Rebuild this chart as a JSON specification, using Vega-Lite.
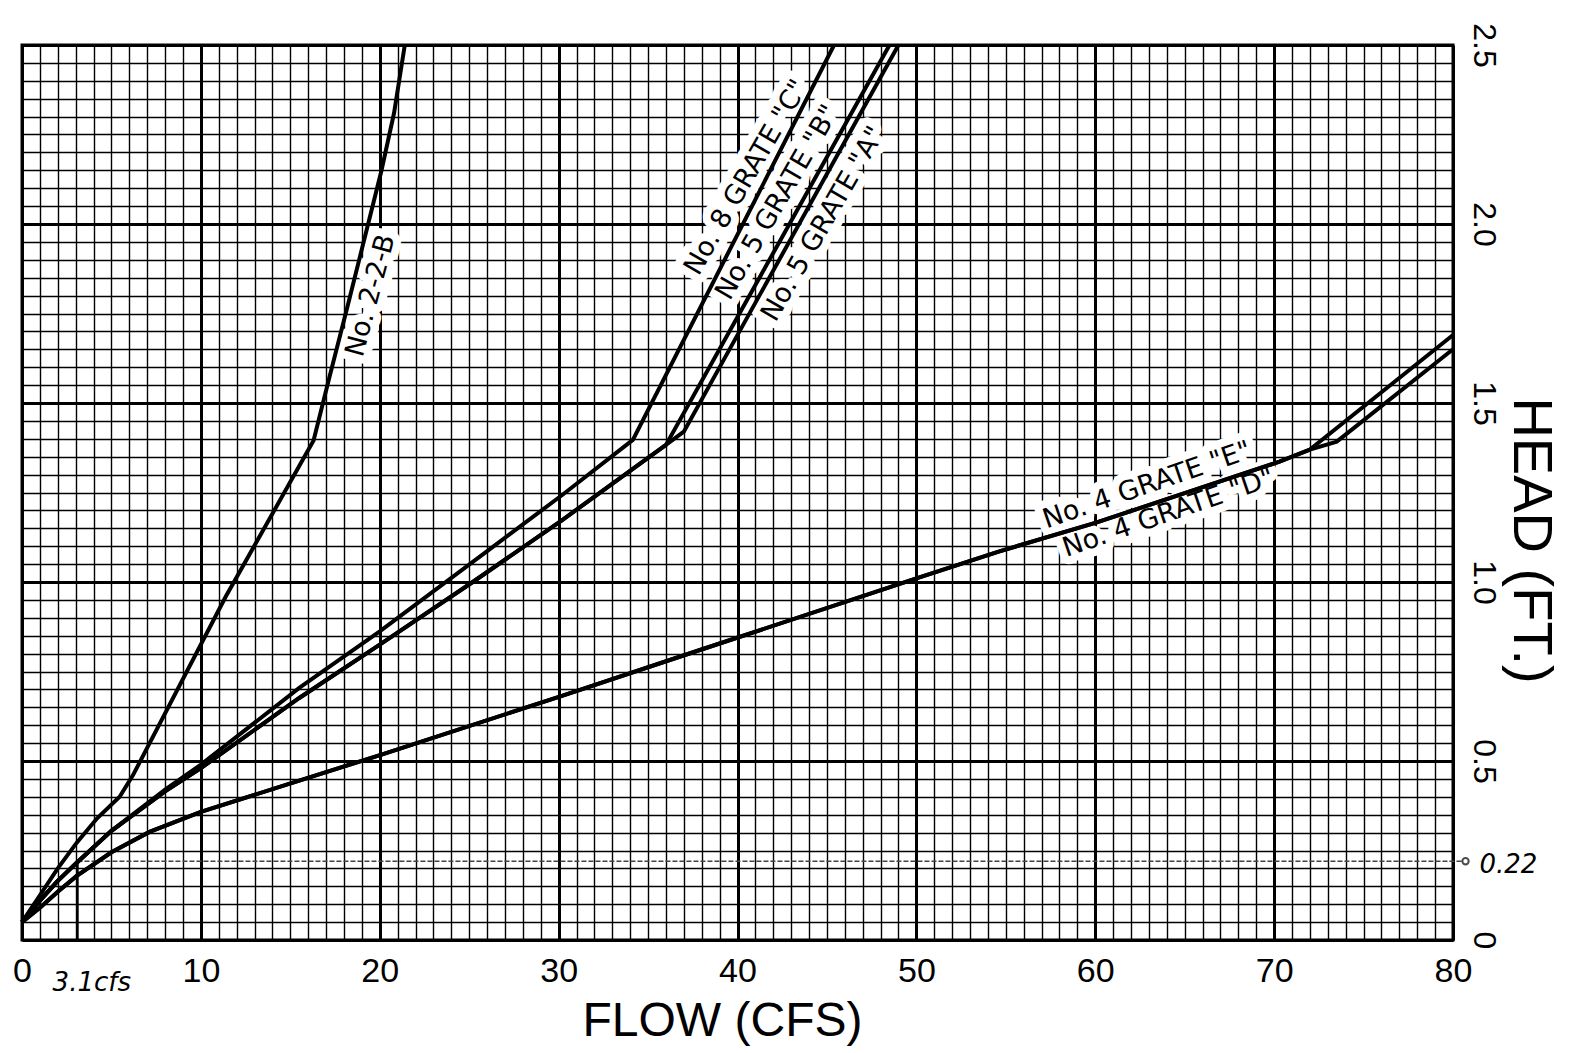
{
  "$schema": "https://vega.github.io/schema/vega-lite/v6.json",
  "width": 1431,
  "height": 895,
  "autosize": "none",
  "padding": {"left": 22, "top": 45, "right": 122, "bottom": 113},
  "background": "white",
  "config": {"view": {"stroke": "black", "strokeWidth": 3}, "font": "Liberation Sans"},
  "encoding": {
    "x": {
      "field": "flow", "type": "quantitative",
      "scale": {"domain": [0, 80], "nice": false, "zero": false},
      "axis": {
        "title": "FLOW (CFS)",
        "values": [0,1,2,3,4,5,6,7,8,9,10,11,12,13,14,15,16,17,18,19,20,21,22,23,24,25,26,27,28,29,30,31,32,33,34,35,36,37,38,39,40,41,42,43,44,45,46,47,48,49,50,51,52,53,54,55,56,57,58,59,60,61,62,63,64,65,66,67,68,69,70,71,72,73,74,75,76,77,78,79,80],
        "grid": true, "gridColor": "black", "gridOpacity": 1,
        "gridWidth": {"condition": {"test": "datum.value % 10 === 0", "value": 3}, "value": 1.4},
        "ticks": false, "domain": false,
        "labelExpr": "datum.value % 10 === 0 ? datum.label : ''",
        "labelFont": "Liberation Sans", "labelFontSize": 34, "labelColor": "black",
        "labelPadding": 14, "labelOverlap": false, "labelBound": false, "labelFlush": false,
        "titleFont": "Liberation Sans", "titleFontSize": 48, "titleFontWeight": "normal", "titleColor": "black",
        "titleX": 700, "titleY": 95, "titleAlign": "center", "titleBaseline": "alphabetic"
      }
    },
    "y": {
      "field": "head", "type": "quantitative",
      "scale": {"domain": [0, 2.5], "nice": false, "zero": false},
      "axis": {
        "orient": "right",
        "title": "HEAD (FT.)",
        "values": [0,0.05,0.1,0.15,0.2,0.25,0.3,0.35,0.4,0.45,0.5,0.55,0.6,0.65,0.7,0.75,0.8,0.85,0.9,0.95,1,1.05,1.1,1.15,1.2,1.25,1.3,1.35,1.4,1.45,1.5,1.55,1.6,1.65,1.7,1.75,1.8,1.85,1.9,1.95,2,2.05,2.1,2.15,2.2,2.25,2.3,2.35,2.4,2.45,2.5],
        "grid": true, "gridColor": "black", "gridOpacity": 1,
        "gridWidth": {"condition": {"test": "round(datum.value*100) % 50 === 0", "value": 3}, "value": 1.4},
        "ticks": false, "domain": false,
        "labelExpr": "round(datum.value*100) % 50 === 0 ? (datum.value === 0 ? '0' : format(datum.value, '.1f')) : ''",
        "labelAngle": 90, "labelAlign": "center", "labelBaseline": "alphabetic",
        "labelFont": "Liberation Sans", "labelFontSize": 32, "labelColor": "black",
        "labelPadding": 20, "labelOverlap": false, "labelBound": false, "labelFlush": false,
        "titleFont": "Liberation Sans", "titleFontSize": 56, "titleFontWeight": "normal", "titleColor": "black",
        "titleAngle": 90, "titleX": 60, "titleY": 495, "titleAlign": "center", "titleBaseline": "alphabetic"
      }
    }
  },
  "layer": [
    {
      "data": {"values": [{"flow": 3.1, "flow2": 80.5, "head": 0.22}]},
      "mark": {"type": "rule", "color": "#444444", "strokeWidth": 1.6, "strokeDash": [5, 2]},
      "encoding": {"x2": {"field": "flow2"}}
    },
    {
      "data": {"values": [{"flow": 3.1, "head": 0, "head2": 0.22}]},
      "mark": {"type": "rule", "color": "black", "strokeWidth": 2.5},
      "encoding": {"y2": {"field": "head2"}}
    },
    {
      "data": {"values": [
        {"label": "No. 2-2-B", "flow": 19.5, "head": 1.80}
      ]},
      "mark": {"type": "text", "angle": -75, "font": "DejaVu Sans", "fontSize": 27, "stroke": "white", "strokeWidth": 16, "strokeJoin": "round", "fill": "white", "align": "center", "baseline": "middle"},
      "encoding": {"text": {"field": "label"}}
    },
    {
      "data": {"values": [
        {"label": "No. 8 GRATE \"C\"", "flow": 40.5, "head": 2.13},
        {"label": "No. 5 GRATE \"B\"", "flow": 42.25, "head": 2.06},
        {"label": "No. 5 GRATE \"A\"", "flow": 44.8, "head": 2.0}
      ]},
      "mark": {"type": "text", "angle": -60, "font": "DejaVu Sans", "fontSize": 27, "stroke": "white", "strokeWidth": 16, "strokeJoin": "round", "fill": "white", "align": "center", "baseline": "middle"},
      "encoding": {"text": {"field": "label"}}
    },
    {
      "data": {"values": [
        {"label": "No. 4 GRATE \"E\"", "flow": 62.9, "head": 1.27},
        {"label": "No. 4 GRATE \"D\"", "flow": 64.1, "head": 1.192}
      ]},
      "mark": {"type": "text", "angle": -19, "font": "DejaVu Sans", "fontSize": 27, "stroke": "white", "strokeWidth": 16, "strokeJoin": "round", "fill": "white", "align": "center", "baseline": "middle"},
      "encoding": {"text": {"field": "label"}}
    },
    {
      "data": {"values": [
        {"series": "No. 2-2-B", "flow": 0, "head": 0.05},
        {"series": "No. 2-2-B", "flow": 1, "head": 0.125},
        {"series": "No. 2-2-B", "flow": 2, "head": 0.2},
        {"series": "No. 2-2-B", "flow": 3.06, "head": 0.272},
        {"series": "No. 2-2-B", "flow": 4.2, "head": 0.34},
        {"series": "No. 2-2-B", "flow": 5.46, "head": 0.40},
        {"series": "No. 2-2-B", "flow": 6.2, "head": 0.46},
        {"series": "No. 2-2-B", "flow": 11.4, "head": 0.96},
        {"series": "No. 2-2-B", "flow": 16.3, "head": 1.395},
        {"series": "No. 2-2-B", "flow": 17.2, "head": 1.575},
        {"series": "No. 2-2-B", "flow": 18.2, "head": 1.77},
        {"series": "No. 2-2-B", "flow": 19.2, "head": 1.97},
        {"series": "No. 2-2-B", "flow": 20.1, "head": 2.15},
        {"series": "No. 2-2-B", "flow": 20.8, "head": 2.31},
        {"series": "No. 2-2-B", "flow": 21.4, "head": 2.5},

        {"series": "No. 8 GRATE C", "flow": 0, "head": 0.05},
        {"series": "No. 8 GRATE C", "flow": 1, "head": 0.11},
        {"series": "No. 8 GRATE C", "flow": 2, "head": 0.165},
        {"series": "No. 8 GRATE C", "flow": 3.06, "head": 0.216},
        {"series": "No. 8 GRATE C", "flow": 5, "head": 0.305},
        {"series": "No. 8 GRATE C", "flow": 8, "head": 0.42},
        {"series": "No. 8 GRATE C", "flow": 10, "head": 0.49},
        {"series": "No. 8 GRATE C", "flow": 15.5, "head": 0.704},
        {"series": "No. 8 GRATE C", "flow": 20, "head": 0.862},
        {"series": "No. 8 GRATE C", "flow": 26.1, "head": 1.09},
        {"series": "No. 8 GRATE C", "flow": 30.2, "head": 1.243},
        {"series": "No. 8 GRATE C", "flow": 34.15, "head": 1.397},
        {"series": "No. 8 GRATE C", "flow": 45.4, "head": 2.5},

        {"series": "No. 5 GRATE B", "flow": 0, "head": 0.05},
        {"series": "No. 5 GRATE B", "flow": 1, "head": 0.11},
        {"series": "No. 5 GRATE B", "flow": 2, "head": 0.165},
        {"series": "No. 5 GRATE B", "flow": 3.06, "head": 0.216},
        {"series": "No. 5 GRATE B", "flow": 5, "head": 0.305},
        {"series": "No. 5 GRATE B", "flow": 8, "head": 0.415},
        {"series": "No. 5 GRATE B", "flow": 10, "head": 0.48},
        {"series": "No. 5 GRATE B", "flow": 15.5, "head": 0.676},
        {"series": "No. 5 GRATE B", "flow": 20, "head": 0.825},
        {"series": "No. 5 GRATE B", "flow": 25.2, "head": 1.0},
        {"series": "No. 5 GRATE B", "flow": 30.2, "head": 1.173},
        {"series": "No. 5 GRATE B", "flow": 36.0, "head": 1.383},
        {"series": "No. 5 GRATE B", "flow": 48.5, "head": 2.5},

        {"series": "No. 5 GRATE A", "flow": 0, "head": 0.05},
        {"series": "No. 5 GRATE A", "flow": 1, "head": 0.11},
        {"series": "No. 5 GRATE A", "flow": 2, "head": 0.165},
        {"series": "No. 5 GRATE A", "flow": 3.06, "head": 0.216},
        {"series": "No. 5 GRATE A", "flow": 5, "head": 0.305},
        {"series": "No. 5 GRATE A", "flow": 8, "head": 0.415},
        {"series": "No. 5 GRATE A", "flow": 10, "head": 0.48},
        {"series": "No. 5 GRATE A", "flow": 15.5, "head": 0.676},
        {"series": "No. 5 GRATE A", "flow": 20, "head": 0.825},
        {"series": "No. 5 GRATE A", "flow": 25.2, "head": 1.0},
        {"series": "No. 5 GRATE A", "flow": 30.2, "head": 1.173},
        {"series": "No. 5 GRATE A", "flow": 36.0, "head": 1.383},
        {"series": "No. 5 GRATE A", "flow": 37.0, "head": 1.42},
        {"series": "No. 5 GRATE A", "flow": 49.0, "head": 2.5},

        {"series": "No. 4 GRATE E", "flow": 0, "head": 0.05},
        {"series": "No. 4 GRATE E", "flow": 1, "head": 0.09},
        {"series": "No. 4 GRATE E", "flow": 2, "head": 0.135},
        {"series": "No. 4 GRATE E", "flow": 3.06, "head": 0.179},
        {"series": "No. 4 GRATE E", "flow": 5, "head": 0.245},
        {"series": "No. 4 GRATE E", "flow": 7.13, "head": 0.302},
        {"series": "No. 4 GRATE E", "flow": 10, "head": 0.358},
        {"series": "No. 4 GRATE E", "flow": 15.5, "head": 0.445},
        {"series": "No. 4 GRATE E", "flow": 20.1, "head": 0.518},
        {"series": "No. 4 GRATE E", "flow": 30.06, "head": 0.68},
        {"series": "No. 4 GRATE E", "flow": 37.9, "head": 0.81},
        {"series": "No. 4 GRATE E", "flow": 50, "head": 1.01},
        {"series": "No. 4 GRATE E", "flow": 54.6, "head": 1.085},
        {"series": "No. 4 GRATE E", "flow": 60, "head": 1.165},
        {"series": "No. 4 GRATE E", "flow": 65, "head": 1.248},
        {"series": "No. 4 GRATE E", "flow": 70.3, "head": 1.336},
        {"series": "No. 4 GRATE E", "flow": 72.0, "head": 1.37},
        {"series": "No. 4 GRATE E", "flow": 80, "head": 1.69},

        {"series": "No. 4 GRATE D", "flow": 0, "head": 0.05},
        {"series": "No. 4 GRATE D", "flow": 1, "head": 0.09},
        {"series": "No. 4 GRATE D", "flow": 2, "head": 0.135},
        {"series": "No. 4 GRATE D", "flow": 3.06, "head": 0.179},
        {"series": "No. 4 GRATE D", "flow": 5, "head": 0.245},
        {"series": "No. 4 GRATE D", "flow": 7.13, "head": 0.302},
        {"series": "No. 4 GRATE D", "flow": 10, "head": 0.358},
        {"series": "No. 4 GRATE D", "flow": 15.5, "head": 0.445},
        {"series": "No. 4 GRATE D", "flow": 20.1, "head": 0.518},
        {"series": "No. 4 GRATE D", "flow": 30.06, "head": 0.68},
        {"series": "No. 4 GRATE D", "flow": 37.9, "head": 0.81},
        {"series": "No. 4 GRATE D", "flow": 50, "head": 1.01},
        {"series": "No. 4 GRATE D", "flow": 54.6, "head": 1.085},
        {"series": "No. 4 GRATE D", "flow": 60, "head": 1.165},
        {"series": "No. 4 GRATE D", "flow": 65, "head": 1.248},
        {"series": "No. 4 GRATE D", "flow": 70.3, "head": 1.336},
        {"series": "No. 4 GRATE D", "flow": 72.0, "head": 1.37},
        {"series": "No. 4 GRATE D", "flow": 73.5, "head": 1.392},
        {"series": "No. 4 GRATE D", "flow": 80, "head": 1.65}
      ]},
      "mark": {"type": "line", "color": "black", "strokeWidth": 4, "strokeJoin": "miter"},
      "encoding": {"detail": {"field": "series"}}
    },
    {
      "data": {"values": [
        {"label": "No. 2-2-B", "flow": 19.5, "head": 1.80}
      ]},
      "mark": {"type": "text", "angle": -75, "font": "DejaVu Sans", "fontSize": 27, "color": "black", "align": "center", "baseline": "middle"},
      "encoding": {"text": {"field": "label"}}
    },
    {
      "data": {"values": [
        {"label": "No. 8 GRATE \"C\"", "flow": 40.5, "head": 2.13},
        {"label": "No. 5 GRATE \"B\"", "flow": 42.25, "head": 2.06},
        {"label": "No. 5 GRATE \"A\"", "flow": 44.8, "head": 2.0}
      ]},
      "mark": {"type": "text", "angle": -60, "font": "DejaVu Sans", "fontSize": 27, "color": "black", "align": "center", "baseline": "middle"},
      "encoding": {"text": {"field": "label"}}
    },
    {
      "data": {"values": [
        {"label": "No. 4 GRATE \"E\"", "flow": 62.9, "head": 1.27},
        {"label": "No. 4 GRATE \"D\"", "flow": 64.1, "head": 1.192}
      ]},
      "mark": {"type": "text", "angle": -19, "font": "DejaVu Sans", "fontSize": 27, "color": "black", "align": "center", "baseline": "middle"},
      "encoding": {"text": {"field": "label"}}
    },
    {
      "data": {"values": [
        {"note": "3.1cfs", "flow": 3.9, "head": -0.12},
        {"note": "0.22", "flow": 83.1, "head": 0.21}
      ]},
      "mark": {"type": "text", "font": "DejaVu Sans", "fontStyle": "italic", "fontSize": 26, "color": "black", "align": "center", "baseline": "middle"},
      "encoding": {"text": {"field": "note"}}
    },
    {
      "data": {"values": [{"flow": 80.7, "head": 0.22}]},
      "mark": {"type": "point", "shape": "circle", "size": 40, "color": "black", "strokeWidth": 2, "filled": false}
    }
  ]
}
